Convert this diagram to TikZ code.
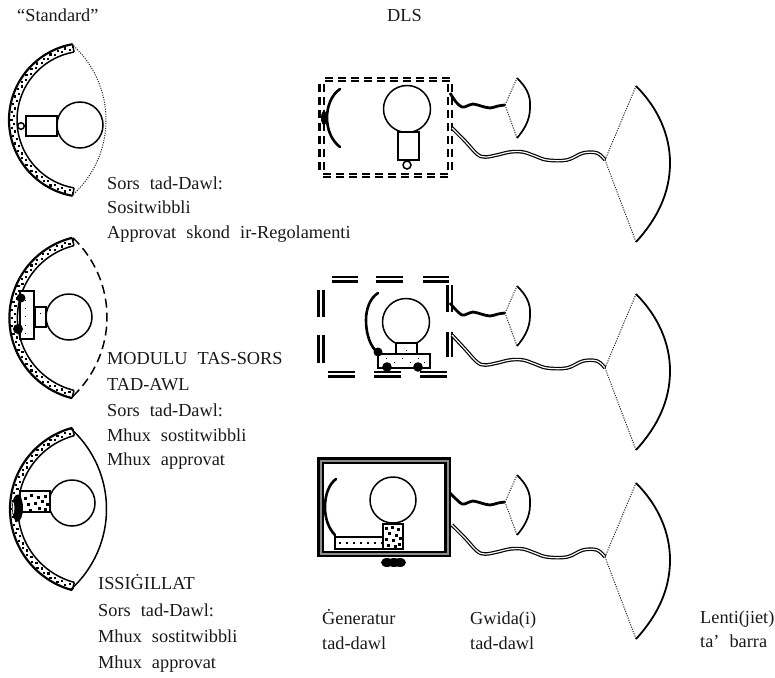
\documentclass[tikz,border=0pt]{standalone}
\usepackage{fontspec}
\setmainfont[WordSpace=2.2]{Liberation Serif}
\tikzset{
  lbl/.style={anchor=base west,inner sep=0pt,font=\fontsize{18.3}{20}\selectfont,text=black!90},
  outl/.style={line width=1.5pt,black},
  heavy/.style={line width=2.6pt,black,line cap=round},
  dotl/.style={line width=1pt,black!85,dash pattern=on 1.1pt off 1.3pt},
  dbl/.style={line width=2.3pt,black},
  guidea/.style={line width=2.8pt,black,line join=round},
  guideb/.style={line width=3.6pt,black,line join=round},
  guidew/.style={line width=1.2pt,white,line join=round}
}
% arc given by centre, radius, angles (screen degrees, y downwards)
\newcommand\ArcPath[5]{plot[smooth,domain=#4:#5,samples=36,variable=\t] ({#1+(#3)*cos(\t)},{#2+(#3)*sin(\t)})}
% textured reflector band
\newcommand\Band[5]{%
  \draw[line width=2.2pt] \ArcPath{#1}{#2}{#3}{#4}{#5};
  \draw[line width=1.5pt] \ArcPath{#1}{#2}{#3-8}{#4}{#5};
  \foreach \i in {0,...,52}{%
    \pgfmathsetmacro\tt{#4+(#5-#4)*\i/52}%
    \pgfmathsetmacro\rr{#3-2.5-2.6*mod(\i,2)}%
    \fill ({#1+\rr*cos(\tt)-1.1},{#2+\rr*sin(\tt)-1.1}) rectangle ++(2.2,2.2);
  }
  \draw[line width=1.5pt] ({#1+(#3)*cos(#4)},{#2+(#3)*sin(#4)}) -- ({#1+(#3-8)*cos(#4)},{#2+(#3-8)*sin(#4)});
  \draw[line width=1.5pt] ({#1+(#3)*cos(#5)},{#2+(#3)*sin(#5)}) -- ({#1+(#3-8)*cos(#5)},{#2+(#3-8)*sin(#5)});
}
% guides and lenses of a DLS row
\newcommand\GuideRow[4]{%
  \begin{scope}[shift={(0,#2)}]
    \coordinate (#1w) at (450,#3);
    \coordinate (#1d) at (452,#4);
    \coordinate (#1sa) at (505,105);
    \coordinate (#1st) at (517,78);
    \coordinate (#1sb) at (517,138);
    \coordinate (#1la) at (605,160);
    \coordinate (#1lt) at (636,86);
    \coordinate (#1lb) at (636,242);
    \draw[guidea] plot[smooth,tension=0.6] coordinates {(#1w) (456,102) (462,107) (467,106) (473,104) (481,106) (490,108) (498,106) (#1sa)};
    \draw[dotl] (#1sa) -- (#1st);
    \draw[dotl] (#1sa) -- (#1sb);
    \draw[line width=1.7pt] (#1st) .. controls (526,87) and (531,95) .. (530,108) .. controls (530,120) and (524,130) .. (#1sb);
    \draw[guideb] plot[smooth,tension=0.6] coordinates {(#1d) (465,141) (477,154) (485,157) (497,155) (510,152) (523,152) (535,156) (547,160) (567,160) (583,153) (597,153) (#1la)};
    \draw[guidew] plot[smooth,tension=0.6] coordinates {(#1d) (465,141) (477,154) (485,157) (497,155) (510,152) (523,152) (535,156) (547,160) (567,160) (583,153) (597,153) (#1la)};
    \draw[dotl] (#1la) -- (#1lt);
    \draw[dotl] (#1la) -- (#1lb);
    \draw[line width=1.8pt] (#1lt) .. controls (658,108) and (670,135) .. (670,163) .. controls (670,192) and (658,218) .. (#1lb);
  \end{scope}
}
\begin{document}
\begin{tikzpicture}[x=1pt,y=-1pt]
\useasboundingbox (0,0) rectangle (775,677);

% ---------- Standard 1
\Band{86}{120}{77}{100}{260}
\draw[dotl] \ArcPath{5}{120}{101}{-48.6}{48.6};
\draw[outl,fill=white] (80,125) circle (23);
\draw[outl,fill=white] (26,116) rectangle (57,136);
\draw[outl,fill=white] (21,126) circle (3.3);

% ---------- Standard 2
\Band{92}{318}{82.6}{104}{256}
\draw[line width=1.5pt,dash pattern=on 9pt off 5pt] \ArcPath{-2}{317}{109}{-46.5}{46.5};
\draw[outl,fill=white] (69,317) circle (23);
\draw[outl,fill=white] (20,291) rectangle (34,339);
\draw[outl,fill=white] (35,307) rectangle (46,327);
\fill (21,298) circle (4.5);
\fill (18,329) circle (5);
\foreach \y in {300,308,316,325,333}{\fill (25,\y) rectangle ++(1.4,1.4);}
\fill (40,313) rectangle ++(1.4,1.4);

% ---------- Standard 3
\Band{94}{509}{84}{105}{255}
\draw[outl] \ArcPath{-2}{509}{108.5}{-48}{48};
\draw[outl,fill=white] (72,503) circle (23);
\draw[outl,fill=white] (20,491) rectangle (50,512);
\foreach \p in {(24,497),(30,494),(37,496),(44,495),(27,503),(34,502),(41,500),(46,503),(29,509),(38,507),(44,508)}{\fill \p rectangle ++(2.6,2.6);}
\fill (17.5,508) ellipse (5.5 and 13.5);
\fill[white] (13.5,508) ellipse (0.8 and 6);

% ---------- DLS 1
\foreach \x in {319.5,323.8}{\draw[dbl,dash pattern=on 8pt off 5pt] (\x,170) -- (\x,83);}
\foreach \y in {78,81}{\draw[dbl,dash pattern=on 8pt off 5pt] (325,\y) -- (451,\y);}
\foreach \x in {448,452.2}{\draw[dbl,dash pattern=on 8pt off 5pt] (\x,84) -- (\x,171);}
\foreach \y in {174,177}{\draw[dbl,dash pattern=on 8pt off 5pt] (323,\y) -- (448,\y);}
\draw[heavy] (340,89) .. controls (331,95) and (327,107) .. (327,118) .. controls (327,130) and (332,141) .. (340,147);
\fill (324,118) ellipse (3 and 7);
\draw[outl,fill=white] (407,109) circle (23.5);
\draw[outl,fill=white] (398,132) rectangle (419,160);
\draw[outl,fill=white] (407,165) circle (4);
\GuideRow{a}{0}{93}{128}

% ---------- DLS 2
\foreach \x in {318.5,323.5}{\draw[dbl] (\x,290) -- (\x,317);\draw[dbl] (\x,335) -- (\x,363);}
\foreach \x in {447.5,452}{\draw[dbl] (\x,285) -- (\x,312);\draw[dbl] (\x,332) -- (\x,357);}
\foreach \y in {277,281.5}{\draw[dbl] (332,\y) -- (358,\y);\draw[dbl] (376,\y) -- (403,\y);\draw[dbl] (423,\y) -- (449,\y);}
\foreach \y in {372,376.5}{\draw[dbl] (328,\y) -- (355,\y);\draw[dbl] (374,\y) -- (401,\y);\draw[dbl] (420,\y) -- (447,\y);}
\draw[heavy] (378,293) .. controls (370,298) and (366,309) .. (366,320) .. controls (366,332) and (369,343) .. (375,350);
\draw[outl,fill=white] (406,322) circle (23.5);
\draw[outl,fill=white] (396,343) rectangle (417,354);
\draw[outl,fill=white] (378,354) rectangle (430,368);
\fill (378,352) circle (4.5);
\fill (387,367) circle (4.8);
\fill (418,367) circle (4.8);
\foreach \p in {(386,358),(394,362),(402,358),(410,362),(418,358),(424,362),(406,350)}{\fill \p rectangle ++(1.4,1.4);}
\GuideRow{b}{208}{95}{127}

% ---------- DLS 3
\fill (317,457) rectangle (451,557);
\fill[black!45] (319.5,459.5) rectangle (448.5,554.5);
\fill (321.5,461.5) rectangle (446.5,552.5);
\fill[white] (324,464) rectangle (444,550.5);
\draw[heavy] (336,479) .. controls (329,484) and (325,495) .. (325,507) .. controls (325,519) and (329,529) .. (335,535);
\draw[outl,fill=white] (393,500) circle (23);
\draw[outl,fill=white] (335,537) rectangle (387,549);
\draw[outl,fill=white] (383,524) rectangle (403,549);
\foreach \p in {(339,542),(346,542),(353,542),(360,542),(367,542),(374,542),(381,542)}{\fill \p rectangle ++(1.7,1.7);}
\foreach \p in {(385,527),(391,526),(397,528),(388,532),(395,534),(385,538),(392,539),(399,537),(387,544),(394,545),(398,543)}{\fill \p rectangle ++(2.6,2.6);}
\fill (387,562.5) ellipse (6 and 4.5);
\fill (394,562.5) ellipse (6 and 4.5);
\fill (400,562.5) ellipse (6 and 4.5);
\GuideRow{c}{397}{96}{128}

% ---------- Labels
\node[lbl] (t1) at (17,22) {“Standard”};
\node[lbl] (t2) at (387,22) {DLS};
\node[lbl] (a1) at (107,189) {Sors tad-Dawl:};
\node[lbl] (a2) at (107,213) {Sositwibbli};
\node[lbl] (a3) at (107,238) {Approvat skond ir-Regolamenti};
\node[lbl] (b1) at (107,364) {MODULU TAS-SORS};
\node[lbl] (b2) at (107,390) {TAD-AWL};
\node[lbl] (b3) at (107,416) {Sors tad-Dawl:};
\node[lbl] (b4) at (107,441) {Mhux sostitwibbli};
\node[lbl] (b5) at (107,465) {Mhux approvat};
\node[lbl] (c1) at (98,589) {ISSIĠILLAT};
\node[lbl] (c2) at (98,616) {Sors tad-Dawl:};
\node[lbl] (c3) at (98,642) {Mhux sostitwibbli};
\node[lbl] (c4) at (98,668) {Mhux approvat};
\node[lbl] (d1) at (322,624) {Ġeneratur};
\node[lbl] (d2) at (322,649) {tad-dawl};
\node[lbl] (e1) at (470,624) {Gwida(i)};
\node[lbl] (e2) at (470,649) {tad-dawl};
\node[lbl] (f1) at (700,623) {Lenti(jiet)};
\node[lbl] (f2) at (700,647) {ta’ barra};
\end{tikzpicture}
\end{document}
